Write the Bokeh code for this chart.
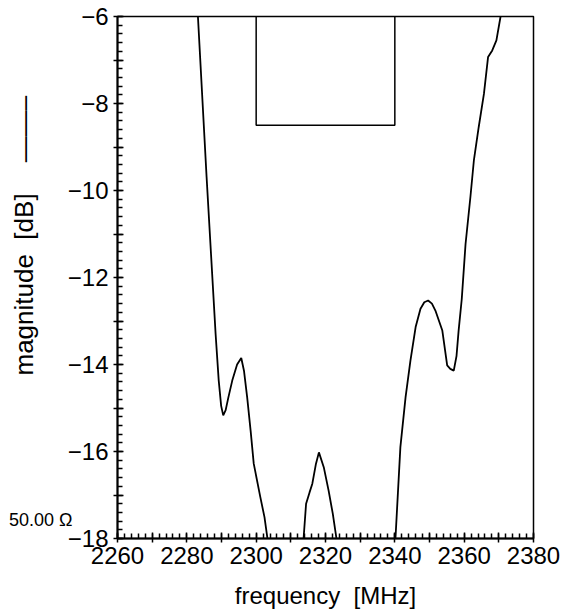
from bokeh.plotting import figure
from bokeh.models import FixedTicker, Range1d, Title
from bokeh.embed import file_html
from bokeh.resources import INLINE

# ---- data ----
freq_mhz = [2283.2, 2285.7, 2288.3, 2289.2, 2289.9, 2290.5, 2291.2, 2292.0, 2293.1,
            2294.5, 2295.7, 2296.5, 2297.4, 2298.4, 2299.3, 2301.2, 2302.4, 2303.2,
            2304.5, 2308.0, 2312.0, 2313.4,
            2313.7, 2314.4, 2315.4, 2316.2, 2317.2, 2318.1, 2319.5, 2320.9, 2322.1, 2323.1,
            2324.5, 2330.0, 2336.0, 2339.5,
            2340.2, 2341.6, 2343.1, 2344.5, 2346.0, 2347.4, 2348.5, 2349.6, 2350.7, 2351.7,
            2353.7, 2355.1, 2356.0, 2357.0, 2357.8, 2358.4, 2359.3, 2360.4, 2361.8, 2362.8,
            2364.2, 2365.7, 2366.9, 2368.1, 2369.3, 2370.5]
mag_db = [-6.0, -9.69, -13.3, -14.37, -14.95, -15.17, -15.05, -14.75, -14.37,
          -14.0, -13.85, -14.15, -14.75, -15.52, -16.28, -17.05, -17.51, -17.97,
          -18.6, -19.5, -19.0, -18.3,
          -17.97, -17.2, -16.94, -16.74, -16.3, -16.02, -16.36, -16.9, -17.43, -17.97,
          -18.6, -19.8, -19.4, -18.3,
          -17.97, -15.9, -14.75, -13.91, -13.14, -12.72, -12.57, -12.53, -12.6, -12.76,
          -13.22, -14.02, -14.1, -14.14, -13.8, -13.22, -12.5, -11.23, -10.15, -9.31,
          -8.54, -7.78, -6.93, -6.78, -6.55, -6.0]

mask_f = [2300, 2300, 2340, 2340]
mask_db = [-6.0, -8.5, -8.5, -6.0]

x_ticks = list(range(2260, 2381, 10))
x_minor = list(range(2260, 2381, 2))
x_labels = {2260: "2260", 2280: "2280", 2300: "2300", 2320: "2320",
            2340: "2340", 2360: "2360", 2380: "2380"}
y_ticks = list(range(-18, -5, 1))
y_minor = [round(-18 + 0.2 * k, 1) for k in range(61)]
y_labels = {-18: "\u221218", -16: "\u221216", -14: "\u221214", -12: "\u221212",
            -10: "\u221210", -8: "\u22128", -6: "\u22126"}

FONT = "Liberation Sans"

p = figure(width=567, height=615, output_backend="svg", toolbar_location=None,
           x_range=Range1d(2260, 2380), y_range=Range1d(-18, -6),
           min_border_left=117, min_border_right=34, min_border_top=16, min_border_bottom=77)
p.background_fill_color = "white"
p.border_fill_color = "white"
p.outline_line_color = "black"
p.outline_line_width = 1.5
p.grid.visible = False

for ax in (p.xaxis[0], p.yaxis[0]):
    ax.axis_line_color = "black"
    ax.axis_line_width = 2
    ax.major_tick_line_color = "black"
    ax.major_tick_line_width = 1.5
    ax.minor_tick_line_color = "black"
    ax.minor_tick_line_width = 1.5
    ax.major_tick_out = 4
    ax.major_tick_in = 6
    ax.minor_tick_in = 5
    ax.minor_tick_out = 0
    ax.major_label_text_font = FONT
    ax.major_label_text_font_size = "24px"
    ax.major_label_text_color = "black"

xa = p.xaxis[0]
xa.ticker = FixedTicker(ticks=x_ticks, minor_ticks=x_minor)
xa.major_label_overrides = {t: x_labels.get(t, "") for t in x_ticks}
xa.major_label_standoff = 4
xa.axis_label = "frequency\u00a0\u00a0[MHz]"
xa.axis_label_text_font = FONT
xa.axis_label_text_font_size = "24px"
xa.axis_label_text_font_style = "normal"
xa.axis_label_text_color = "black"
xa.axis_label_standoff = 15

ya = p.yaxis[0]
ya.ticker = FixedTicker(ticks=y_ticks, minor_ticks=y_minor)
ya.major_label_overrides = {t: y_labels.get(t, "") for t in y_ticks}
ya.major_label_standoff = 5
# the reference-impedance note in the lower-left corner
ya.axis_label = "50.00 \u03a9\n\u00a0"
ya.axis_label_text_font = FONT
ya.axis_label_text_font_size = "18px"
ya.axis_label_text_font_style = "normal"
ya.axis_label_text_color = "black"
ya.axis_label_text_line_height = 1.9
ya.axis_label_orientation = "horizontal"
ya.axis_label_standoff_mode = "axis"
ya.axis_label_standoff = 45
ya.axis_label_align = "start"

p.line(freq_mhz, mag_db, line_color="black", line_width=1.8)
p.line(mask_f, mask_db, line_color="black", line_width=1.5)

ytitle = Title(text="magnitude\u00a0\u00a0[dB]\u2003\u2009\u2014\u2014\u2013",
               align="left", offset=163, text_font=FONT, text_font_size="26px",
               text_font_style="normal", text_color="black")
try:
    ytitle.standoff = -67
except Exception:
    pass
p.add_layout(ytitle, "left")

open("out.html", "w").write(file_html(p, INLINE))
